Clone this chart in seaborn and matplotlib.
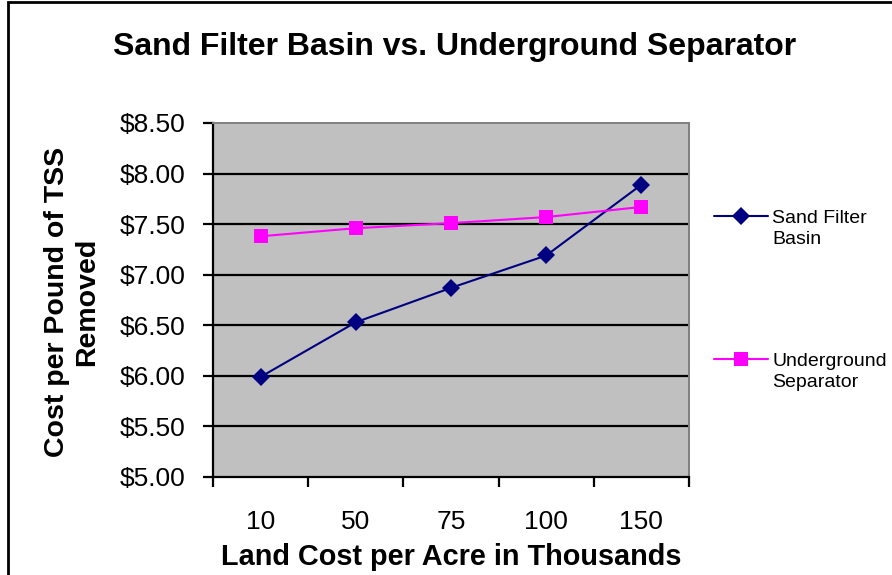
import numpy as np
import pandas as pd
import matplotlib
matplotlib.use('Agg')
import matplotlib.pyplot as plt
import seaborn as sns
from matplotlib.patches import Rectangle
from matplotlib.ticker import FuncFormatter
from matplotlib.legend_handler import HandlerLine2D

# land cost categories (thousands per acre) and cost per pound of TSS removed
land_cost = ['10', '50', '75', '100', '150']
sand_filter = [5.99, 6.53, 6.87, 7.19, 7.89]
underground = [7.38, 7.46, 7.51, 7.57, 7.67]

series_names = ['Sand Filter\nBasin', 'Underground\nSeparator']

df = pd.DataFrame({
    'pos': list(range(len(land_cost))) * 2,
    'cost': sand_filter + underground,
    'series': [series_names[0]] * len(land_cost) + [series_names[1]] * len(land_cost),
})

sns.set_theme(style='white')
plt.rcParams['font.family'] = ['Liberation Sans', 'DejaVu Sans']
plt.rcParams.update({'text.color': 'black', 'axes.labelcolor': 'black',
                     'xtick.color': 'black', 'ytick.color': 'black'})

fig = plt.figure(figsize=(8.92, 5.75), dpi=100)
ax = fig.add_axes([213/892, 1-477/575, (689-213)/892, (477-123)/575])
ax.set_facecolor('#C0C0C0')

sns.lineplot(data=df, x='pos', y='cost', hue='series', style='series',
             markers=['D', 's'], dashes=False, markersize=9.5, linewidth=1.5,
             palette=['#000080', '#FF00FF'], markeredgewidth=0, ax=ax, zorder=3)

ax.set_xlim(-0.5, len(land_cost) - 0.5)
ax.set_ylim(5.0, 8.5)
ax.set_yticks(np.arange(5.0, 8.51, 0.5))
ax.yaxis.set_major_formatter(FuncFormatter(lambda v, p: '${:.2f}'.format(v)))
for y in np.arange(5.5, 8.01, 0.5):
    ax.axhline(y, color='black', lw=1.6, zorder=1)

# category labels centred, tick marks between categories
ax.set_xticks(np.arange(-0.5, len(land_cost), 1.0))
ax.set_xticklabels([])
ax.set_xticks(range(len(land_cost)), minor=True)
ax.set_xticklabels(land_cost, minor=True)
ax.tick_params(axis='x', which='major', direction='out', length=7, width=1.6, color='black', bottom=True)
ax.tick_params(axis='x', which='minor', length=0, pad=24, labelsize=19)
ax.tick_params(axis='y', direction='out', length=7, width=1.6, color='black', left=True, pad=13, labelsize=19)

for side in ['left', 'bottom']:
    ax.spines[side].set_color('black')
    ax.spines[side].set_linewidth(1.6)
for side in ['top', 'right']:
    ax.spines[side].set_visible(True)
    ax.spines[side].set_color('#808080')
    ax.spines[side].set_linewidth(1.4)

ax.set_xlabel('Land Cost per Acre in Thousands', fontsize=20.8, fontweight='bold', labelpad=6)
ax.set_ylabel('Cost per Pound of TSS\nRemoved', fontsize=20.5, fontweight='bold')
ax.yaxis.set_label_coords(-0.237, 0.494)
fig.text(455/892, 1-47/575, 'Sand Filter Basin vs. Underground Separator',
         ha='center', va='center', fontsize=23, fontweight='bold')


class FirstLineHandler(HandlerLine2D):
    # put the legend key next to the first line of a two-line label
    def create_artists(self, legend, orig_handle, xdescent, ydescent, width, height, fontsize, trans):
        artists = super().create_artists(legend, orig_handle, xdescent, ydescent, width, height, fontsize, trans)
        for a in artists:
            a.set_ydata(np.asarray(a.get_ydata()) + 0.65 * fontsize)
        return artists


handles, labels = ax.get_legend_handles_labels()
leg = ax.legend(handles, labels, loc='upper left', bbox_to_anchor=(714/892, 1-210/575),
                bbox_transform=fig.transFigure, frameon=False, borderpad=0, borderaxespad=0,
                fontsize=14, labelspacing=5.4, handlelength=2.8, handletextpad=0.2,
                handler_map={h: FirstLineHandler() for h in handles})
for t in leg.get_texts():
    t.set_linespacing(1.3)

fig.patches.append(Rectangle((8/892, -0.1), 1.2, 1 - 2/575 + 0.1, transform=fig.transFigure,
                             fill=False, edgecolor='black', lw=2))

fig.savefig('out.png', dpi=100)
